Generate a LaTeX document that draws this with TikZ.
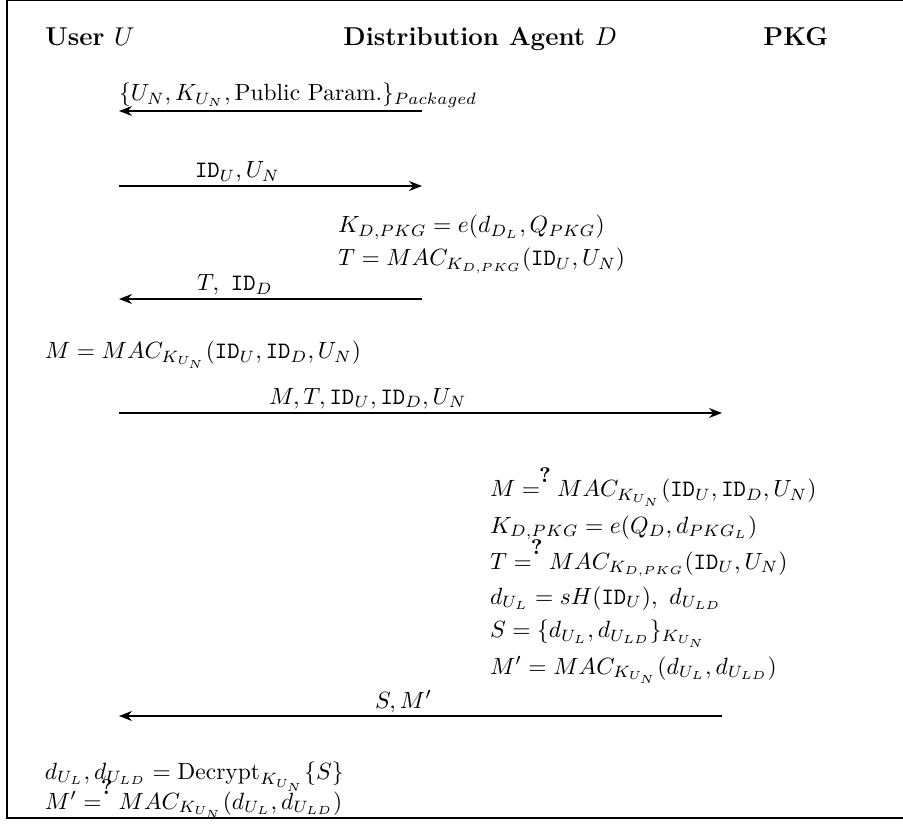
\documentclass[tikz,border=0pt]{standalone}
\usetikzlibrary{arrows.meta}
\newcommand{\qeq}{\mathrel{=\makebox[0pt][l]{\raisebox{0.6em}{\kern-0.32em\fontsize{9}{10}\selectfont\textbf{?}}}}\,}
\begin{document}
\begin{tikzpicture}[x=0.4255pt,y=-0.4255pt,
  msg/.style={line width=0.8pt,-{Stealth[length=5.5pt,width=4.2pt,inset=1.8pt]}},
  txt/.style={anchor=base west,inner sep=0pt,outer sep=0pt},
  hdr/.style={anchor=base west,inner sep=0pt,font=\fontsize{11}{13}\selectfont\bfseries},
  frame/.style={line width=0.9pt}]
\useasboundingbox (0,0) rectangle (903,830);
\draw[frame] (7,0) -- (7,818) -- (920,818);
\draw[frame] (7,0) -- (920,0);
% headers
\node[hdr] (hU) at (45,46) {User $U$};
\node[hdr] (hD) at (343,46) {Distribution Agent $D$};
\node[hdr] (hP) at (763,46) {PKG};
% message 1
\coordinate (m1u) at (119,111);
\coordinate (m1d) at (422,111);
\draw[msg] (m1d) -- (m1u);
\node[txt] (l1) at (119,101) {$\{U_N, K_{U_N}, \mbox{Public Param.}\}_{Packaged}$};
% message 2
\coordinate (m2u) at (119,186);
\coordinate (m2d) at (422,186);
\draw[msg] (m2u) -- (m2d);
\node[txt] (l2) at (195,178) {$\mathtt{ID}_U, U_N$};
% D computations
\node[txt] (dk) at (338,233) {$K_{D,PKG} = e(d_{D_L}, Q_{PKG})$};
\node[txt] (dt) at (338,266) {$T = MAC_{K_{D,PKG}}(\mathtt{ID}_U, U_N)$};
% message 3
\coordinate (m3u) at (119,299);
\coordinate (m3d) at (422,299);
\draw[msg] (m3d) -- (m3u);
\node[txt] (l3) at (197,291) {$T,~\mathtt{ID}_D$};
% user computation
\node[txt] (um) at (45,359) {$M = MAC_{K_{U_N}}(\mathtt{ID}_U, \mathtt{ID}_D, U_N)$};
% message 4
\coordinate (m4u) at (119,413);
\coordinate (m4p) at (722,413);
\draw[msg] (m4u) -- (m4p);
\node[txt] (l4) at (269,404) {$M, T, \mathtt{ID}_U, \mathtt{ID}_D, U_N$};
% PKG computations
\node[txt] (p1) at (490,497) {$M \qeq MAC_{K_{U_N}}(\mathtt{ID}_U, \mathtt{ID}_D, U_N)$};
\node[txt] (p2) at (490,533) {$K_{D,PKG} = e(Q_D, d_{PKG_L})$};
\node[txt] (p3) at (490,569) {$T \qeq MAC_{K_{D,PKG}}(\mathtt{ID}_U, U_N)$};
\node[txt] (p4) at (490,604) {$d_{U_L} = sH(\mathtt{ID}_U),\ d_{U_{LD}}$};
\node[txt] (p5) at (490,638) {$S = \{d_{U_L}, d_{U_{LD}}\}_{K_{U_N}}$};
\node[txt] (p6) at (490,674) {$M' = MAC_{K_{U_N}}(d_{U_L}, d_{U_{LD}})$};
% message 5
\coordinate (m5u) at (119,716);
\coordinate (m5p) at (722,716);
\draw[msg] (m5p) -- (m5u);
\node[txt] (l5) at (375,708) {$S, M'$};
% user final
\node[txt] (u1) at (45,779) {$d_{U_L}, d_{U_{LD}} = \mbox{Decrypt}_{K_{U_N}}\{S\}$};
\node[txt] (u2) at (45,809) {$M' \qeq MAC_{K_{U_N}}(d_{U_L}, d_{U_{LD}})$};
\end{tikzpicture}
\end{document}
